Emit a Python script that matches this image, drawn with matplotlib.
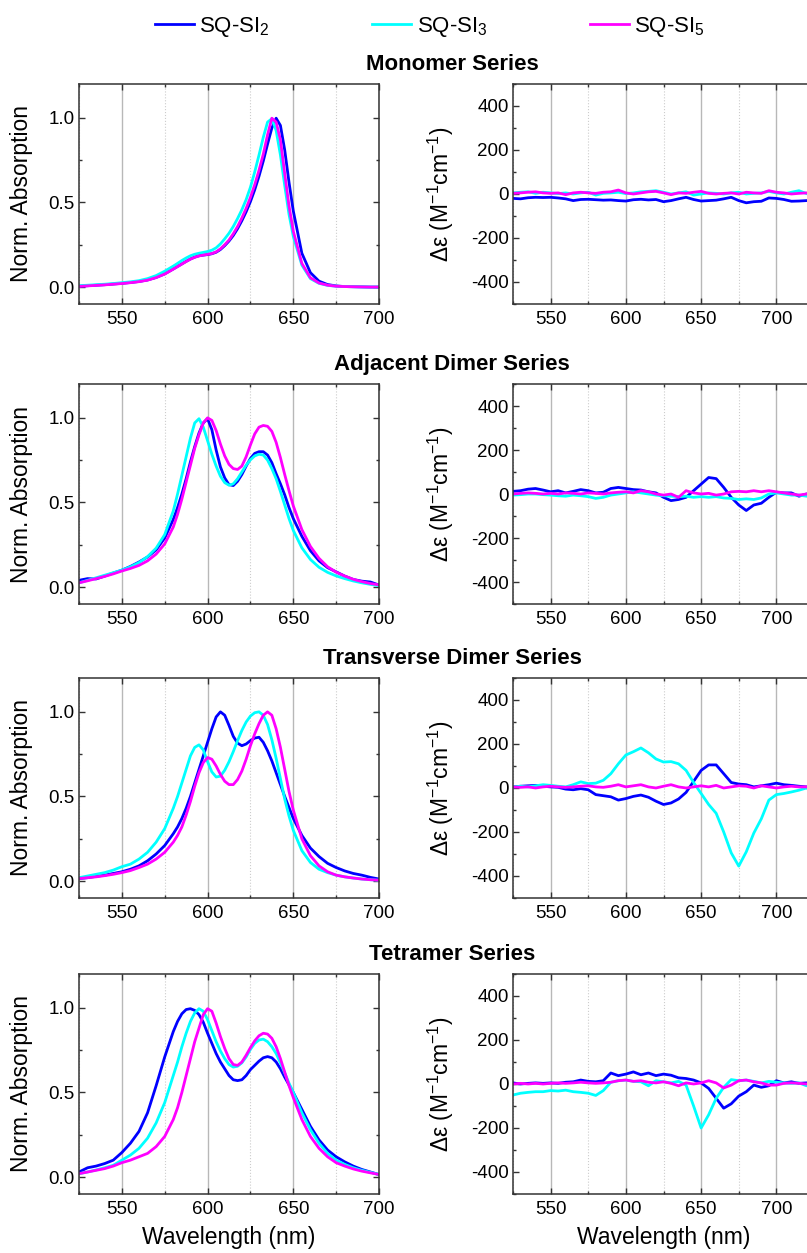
import matplotlib
matplotlib.use("Agg")
import matplotlib.pyplot as plt
from matplotlib.ticker import MultipleLocator

plt.rcParams['font.family'] = ['Liberation Sans', 'DejaVu Sans']
plt.rcParams['mathtext.fontset'] = 'custom'
plt.rcParams['mathtext.rm'] = 'Liberation Sans'
plt.rcParams['mathtext.it'] = 'Liberation Sans:italic'
plt.rcParams['axes.unicode_minus'] = False

# ---- data ----
wl_abs = [525, 530, 535, 540, 545, 550, 555, 560, 565, 570, 575, 580,
          582.5, 585, 587.5, 590, 592.5, 595, 597.5, 600, 602.5, 605, 607.5, 610, 612.5,
          615, 617.5, 620, 622.5, 625, 627.5, 630, 632.5, 635, 637.5, 640, 642.5, 645, 647.5,
          650, 655, 660, 665, 670, 675, 680, 685, 690, 695, 700]

wl_cd = list(range(525, 726, 5))

series_names = ["SQ-SI$_2$", "SQ-SI$_3$", "SQ-SI$_5$"]
colors = ["#0000ff", "#00ffff", "#ff00ff"]
titles = ["Monomer Series", "Adjacent Dimer Series", "Transverse Dimer Series", "Tetramer Series"]

# normalized absorption
mono_si2 = [0.005, 0.008, 0.011, 0.014, 0.018, 0.022, 0.027, 0.033, 0.042, 0.057, 0.078, 0.107,
            0.122, 0.137, 0.152, 0.166, 0.177, 0.185, 0.189, 0.192, 0.197, 0.206, 0.222, 0.245, 0.272,
            0.305, 0.345, 0.392, 0.445, 0.505, 0.575, 0.655, 0.745, 0.845, 0.94, 0.998, 0.955, 0.81, 0.62,
            0.45, 0.2, 0.085, 0.035, 0.015, 0.007, 0.003, 0.002, 0.001, 0.0, 0.0]
mono_si3 = [0.008, 0.011, 0.014, 0.017, 0.021, 0.026, 0.031, 0.038, 0.05, 0.068, 0.094, 0.124,
            0.14, 0.157, 0.172, 0.185, 0.194, 0.2, 0.205, 0.21, 0.218, 0.232, 0.255, 0.285, 0.318,
            0.358, 0.405, 0.457, 0.517, 0.59, 0.68, 0.78, 0.885, 0.975, 0.995, 0.925, 0.78, 0.6, 0.43,
            0.3, 0.13, 0.05, 0.022, 0.01, 0.005, 0.003, 0.002, 0.001, 0.0, 0.0]
mono_si5 = [0.004, 0.007, 0.01, 0.013, 0.017, 0.021, 0.026, 0.032, 0.041, 0.056, 0.077, 0.106,
            0.121, 0.136, 0.151, 0.165, 0.176, 0.184, 0.189, 0.193, 0.198, 0.208, 0.226, 0.25, 0.278,
            0.315, 0.358, 0.408, 0.465, 0.53, 0.605, 0.69, 0.785, 0.9, 0.998, 0.975, 0.87, 0.67, 0.48,
            0.33, 0.14, 0.055, 0.024, 0.011, 0.005, 0.003, 0.002, 0.001, 0.0, 0.0]

adj_si2 = [0.04, 0.05, 0.048, 0.065, 0.083, 0.1, 0.122, 0.148, 0.178, 0.22, 0.29, 0.4,
           0.47, 0.55, 0.64, 0.74, 0.83, 0.91, 0.97, 0.995, 0.93, 0.81, 0.71, 0.645, 0.605,
           0.6, 0.625, 0.665, 0.715, 0.76, 0.79, 0.8, 0.8, 0.78, 0.735, 0.67, 0.61, 0.545, 0.47,
           0.405, 0.3, 0.215, 0.155, 0.115, 0.09, 0.065, 0.045, 0.035, 0.03, 0.012]
adj_si3 = [0.025, 0.04, 0.055, 0.07, 0.085, 0.1, 0.12, 0.145, 0.18, 0.23, 0.31, 0.45,
           0.55, 0.66, 0.77, 0.88, 0.97, 0.995, 0.945, 0.865, 0.785, 0.715, 0.655, 0.617, 0.602,
           0.61, 0.64, 0.68, 0.72, 0.752, 0.775, 0.785, 0.78, 0.75, 0.7, 0.64, 0.565, 0.485, 0.405,
           0.335, 0.232, 0.163, 0.117, 0.087, 0.066, 0.05, 0.036, 0.025, 0.016, 0.008]
adj_si5 = [0.025, 0.037, 0.05, 0.063, 0.078, 0.095, 0.11, 0.128, 0.155, 0.195, 0.255, 0.355,
           0.43, 0.52, 0.62, 0.72, 0.82, 0.9, 0.97, 1.0, 0.985, 0.925, 0.845, 0.775, 0.725,
           0.7, 0.695, 0.715, 0.77, 0.84, 0.905, 0.945, 0.955, 0.95, 0.92, 0.855, 0.765, 0.665, 0.57,
           0.48, 0.34, 0.24, 0.17, 0.12, 0.088, 0.065, 0.046, 0.032, 0.021, 0.013]

trans_si2 = [0.015, 0.02, 0.028, 0.035, 0.045, 0.055, 0.07, 0.09, 0.12, 0.16, 0.21, 0.28,
             0.32, 0.37, 0.43, 0.5, 0.58, 0.66, 0.74, 0.82, 0.9, 0.97, 1.0, 0.98, 0.92,
             0.855, 0.815, 0.8, 0.81, 0.83, 0.845, 0.85, 0.82, 0.77, 0.71, 0.64, 0.57, 0.5, 0.435,
             0.37, 0.27, 0.195, 0.145, 0.105, 0.08, 0.06, 0.045, 0.035, 0.022, 0.012]
trans_si3 = [0.02, 0.03, 0.04, 0.05, 0.065, 0.085, 0.1, 0.13, 0.17, 0.23, 0.31, 0.43,
             0.5, 0.58, 0.66, 0.74, 0.79, 0.805, 0.775, 0.705, 0.645, 0.615, 0.62, 0.655, 0.705,
             0.765, 0.83, 0.89, 0.94, 0.975, 0.995, 1.0, 0.98, 0.925, 0.835, 0.725, 0.605, 0.485, 0.385,
             0.3, 0.18, 0.11, 0.07, 0.05, 0.035, 0.025, 0.018, 0.012, 0.008, 0.005]
trans_si5 = [0.015, 0.02, 0.025, 0.032, 0.04, 0.05, 0.062, 0.08, 0.1, 0.13, 0.17, 0.23,
             0.27, 0.32, 0.39, 0.47, 0.56, 0.64, 0.7, 0.73, 0.72, 0.68, 0.63, 0.59, 0.57,
             0.57, 0.6, 0.65, 0.72, 0.8, 0.87, 0.93, 0.98, 1.0, 0.98, 0.9, 0.79, 0.66, 0.53,
             0.42, 0.25, 0.15, 0.09, 0.055, 0.035, 0.025, 0.018, 0.012, 0.008, 0.005]

tet_si2 = [0.03, 0.055, 0.065, 0.08, 0.1, 0.145, 0.2, 0.27, 0.38, 0.54, 0.71, 0.86,
           0.92, 0.965, 0.99, 0.995, 0.985, 0.96, 0.915, 0.85, 0.79, 0.73, 0.68, 0.64, 0.6,
           0.575, 0.57, 0.575, 0.6, 0.635, 0.66, 0.685, 0.705, 0.712, 0.705, 0.68, 0.64, 0.59, 0.545,
           0.5, 0.4, 0.3, 0.22, 0.16, 0.12, 0.09, 0.065, 0.045, 0.03, 0.015]
tet_si3 = [0.02, 0.03, 0.042, 0.055, 0.07, 0.1, 0.13, 0.17, 0.23, 0.32, 0.44, 0.6,
           0.68, 0.77, 0.85, 0.92, 0.97, 0.995, 0.98, 0.93, 0.865, 0.8, 0.745, 0.7, 0.665,
           0.65, 0.655, 0.675, 0.71, 0.755, 0.79, 0.81, 0.815, 0.8, 0.77, 0.73, 0.675, 0.615, 0.555,
           0.5, 0.38, 0.28, 0.2, 0.14, 0.1, 0.075, 0.055, 0.04, 0.028, 0.015]
tet_si5 = [0.02, 0.03, 0.04, 0.05, 0.065, 0.085, 0.1, 0.12, 0.14, 0.18, 0.24, 0.34,
           0.41, 0.5, 0.6, 0.7, 0.8, 0.88, 0.96, 0.995, 0.98, 0.91, 0.83, 0.76, 0.7,
           0.665, 0.66, 0.68, 0.72, 0.765, 0.805, 0.835, 0.85, 0.845, 0.82, 0.77, 0.7, 0.62, 0.54,
           0.47, 0.34, 0.24, 0.17, 0.12, 0.085, 0.065, 0.048, 0.035, 0.025, 0.015]

# CD, delta epsilon (M^-1 cm^-1)
mono_cd_si2 = [-20, -22, -17, -15, -16, -15, -18, -22, -30, -25, -24, -26, -28, -27, -30, -32, -26, -24, -27, -25,
               -35, -30, -22, -15, -25, -32, -30, -28, -22, -15, -30, -40, -35, -33, -18, -20, -25, -33, -32, -30, -28]
mono_cd_si3 = [5, 8, 10, 3, 8, 5, 2, 5, 0, 5, 8, -5, 3, 5, 8, 2, 5, 10, 12, 15,
               8, 0, 5, 10, -5, 0, 5, 3, 0, 5, 8, 0, 3, 5, 12, 5, 0, 8, 15, 2, -10]
mono_cd_si5 = [3, 5, 8, 10, 5, 3, 5, -3, 5, 8, 5, 3, 8, 10, 18, 5, 0, 5, 10, 12,
               5, -3, 5, 3, 8, 12, 3, 0, 3, 5, 0, 8, 5, 3, 15, 8, 5, 0, 3, 5, 5]

adj_cd_si2 = [12, 15, 22, 25, 18, 10, 15, 5, 12, 20, 15, 5, 8, 25, 30, 25, 20, 18, 10, 5,
              -15, -30, -25, -15, 15, 45, 75, 70, 30, -15, -50, -75, -50, -42, -15, 8, 5, 5, -10, 0, 0]
adj_cd_si3 = [-5, -3, 0, 0, -3, -5, -8, -10, -5, -8, -12, -20, -15, -5, 0, 5, 10, 5, 0, -5,
              -8, -10, -12, -10, -15, -12, -15, -12, -18, -20, -25, -22, -25, -18, 0, 5, 0, -5, -5, -10, -10]
adj_cd_si5 = [0, 3, 5, 3, 0, 3, 0, 5, 3, 0, 5, 3, 0, 5, 8, 10, 5, 15, 10, 0,
              -5, 0, -15, 15, 5, 0, 3, -5, 0, 10, 12, 10, 15, 10, 15, 10, 5, 0, -5, 0, 0]

trans_cd_si2 = [5, 8, 10, 12, 8, 5, 3, -5, -8, -3, -8, -30, -35, -40, -55, -48, -38, -32, -42, -60,
                -75, -68, -50, -20, 30, 80, 105, 105, 65, 25, 18, 15, 5, 10, 15, 22, 15, 12, 8, 5, 5]
trans_cd_si3 = [5, 8, 5, 10, 15, 12, 8, 5, 15, 28, 20, 22, 35, 65, 110, 150, 165, 182, 160, 132,
                118, 120, 110, 80, 25, -25, -75, -115, -200, -295, -355, -290, -205, -140, -55, -30, -25, -18, -10, 0, -20]
trans_cd_si5 = [5, 3, 5, 0, 5, 8, 5, 3, 5, 8, 10, 5, 3, 8, 15, 5, 10, 15, 5, 0,
                8, 15, 5, 0, 5, 10, 5, 12, 0, 5, 10, 8, 0, 10, 5, 0, 5, 8, 5, 5, 10]

tet_cd_si2 = [5, 0, 3, 5, 3, 5, 3, 8, 10, 18, 12, 10, 15, 50, 38, 45, 55, 42, 50, 38,
              45, 40, 28, 25, 18, 5, -20, -65, -110, -90, -55, -35, -5, -15, -8, 15, 5, 10, 3, 5, 5]
tet_cd_si3 = [-50, -42, -38, -35, -35, -30, -32, -28, -35, -38, -42, -52, -30, 8, 15, 18, 12, 10, -8, 15,
              10, 5, 12, -5, -100, -200, -140, -65, -15, 20, 15, 18, 12, 5, 12, 8, 5, 3, 5, -8, -5]
tet_cd_si5 = [0, 3, 0, 3, 0, 3, 5, 3, 5, 8, 5, 3, 5, 8, 15, 18, 12, 15, 8, 5,
              10, 3, -8, 5, 0, 5, 15, 5, -18, -5, 15, 18, 10, 5, -5, -5, 3, 5, 3, 0, 5]

abs_rows = [[mono_si2, mono_si3, mono_si5], [adj_si2, adj_si3, adj_si5],
            [trans_si2, trans_si3, trans_si5], [tet_si2, tet_si3, tet_si5]]
cd_rows = [[mono_cd_si2, mono_cd_si3, mono_cd_si5], [adj_cd_si2, adj_cd_si3, adj_cd_si5],
           [trans_cd_si2, trans_cd_si3, trans_cd_si5], [tet_cd_si2, tet_cd_si3, tet_cd_si5]]

# ---- layout ----
W, H = 807, 1253
fig = plt.figure(figsize=(W / 100, H / 100), dpi=100)

row_tops = [84, 384, 678, 974]
ax_h = 220
lw = 2.0


def style(ax, ymaj, ymin):
    ax.xaxis.set_major_locator(MultipleLocator(50))
    ax.xaxis.set_minor_locator(MultipleLocator(25))
    ax.yaxis.set_major_locator(MultipleLocator(ymaj))
    ax.yaxis.set_minor_locator(MultipleLocator(ymin))
    ax.grid(True, axis='x', which='major', color='#b8b8b8', lw=1.0)
    ax.grid(True, axis='x', which='minor', color='#cccccc', lw=0.8, ls=':')
    ax.set_axisbelow(True)
    ax.tick_params(which='both', direction='in', top=True, right=True,
                   labelsize=13.5, color='#333333', width=1.0)
    ax.tick_params(which='major', length=4, pad=3)
    ax.tick_params(which='minor', length=2.5)
    ax.tick_params(axis='x', pad=5)
    for s in ax.spines.values():
        s.set_color('#333333')
        s.set_linewidth(1.1)


for i in range(4):
    top = row_tops[i]
    axL = fig.add_axes([79 / W, 1 - (top + ax_h) / H, 300 / W, ax_h / H])
    axR = fig.add_axes([513 / W, 1 - (top + ax_h) / H, 301 / W, ax_h / H])

    for k in range(3):
        axL.plot(wl_abs, abs_rows[i][k], color=colors[k], lw=lw, label=series_names[k])
        axR.plot(wl_cd, cd_rows[i][k], color=colors[k], lw=lw, label=series_names[k])

    axL.set_xlim(525, 700)
    axL.set_ylim(-0.1, 1.2)
    axR.set_xlim(525, 725)
    axR.set_ylim(-500, 500)
    style(axL, 0.5, 0.25)
    style(axR, 200, 100)

    axL.set_ylabel("Norm. Absorption", fontsize=16.5)
    axL.yaxis.set_label_coords(-0.153, 0.5)
    axR.set_ylabel("\u0394\u03b5 (M$^{-1}$cm$^{-1}$)", fontsize=16.5)
    axR.yaxis.set_label_coords(-0.19, 0.5)

    fig.text(452 / W, 1 - (top - 19) / H, titles[i], ha='center', va='center',
             fontsize=16, fontweight='bold')

    if i == 3:
        axL.set_xlabel("Wavelength (nm)", fontsize=16.5, labelpad=6)
        axR.set_xlabel("Wavelength (nm)", fontsize=16.5, labelpad=6)

    if i == 0:
        handles, labels = axL.get_legend_handles_labels()

fig.legend(handles, labels, loc='center', bbox_to_anchor=(430 / W, 1 - 27 / H), ncol=3,
           frameon=False, fontsize=16, handlelength=1.75, handletextpad=0.25,
           columnspacing=4.6)

fig.savefig("out.png", dpi=100)
